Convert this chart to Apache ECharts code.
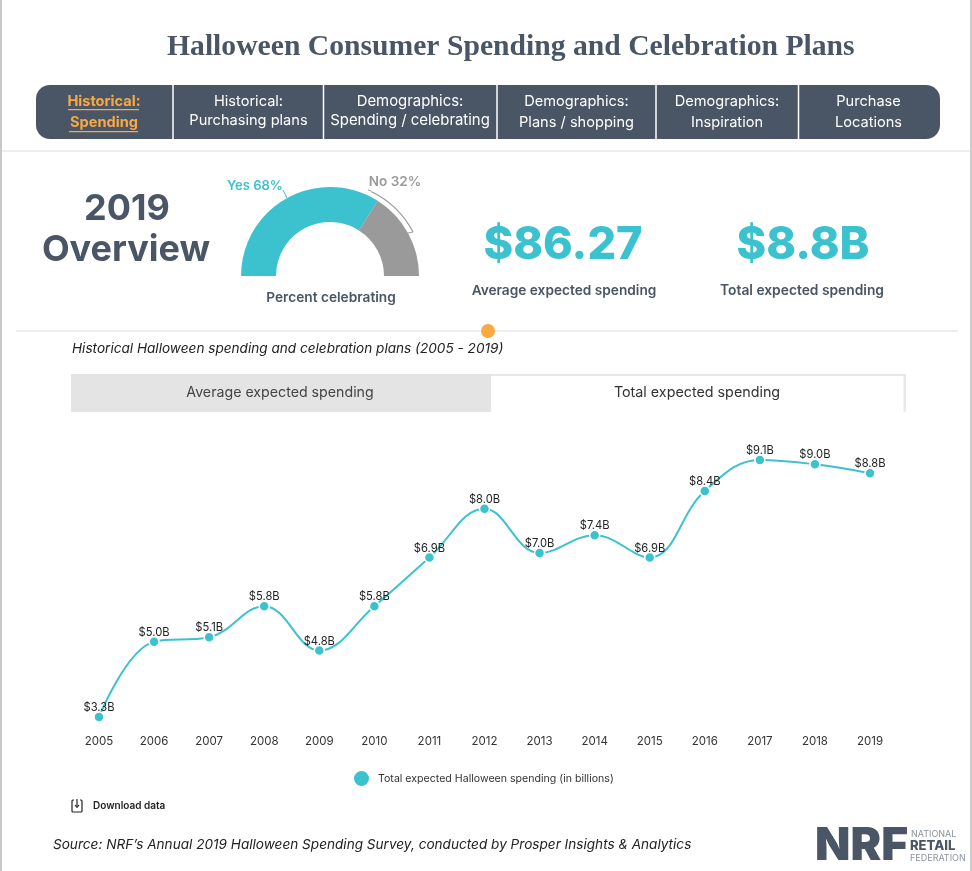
<!DOCTYPE html>
<html>
<head>
<meta charset="utf-8">
<title>Halloween Consumer Spending and Celebration Plans</title>
<script src="https://cdn.jsdelivr.net/npm/echarts@6/dist/echarts.min.js"></script>
<style>
html, body { margin: 0; padding: 0; background: #fff; }
#main { width: 972px; height: 871px; }
</style>
</head>
<body>
<div id="main"></div>
<script>
var years = ['2005', '2006', '2007', '2008', '2009', '2010', '2011', '2012', '2013', '2014', '2015', '2016', '2017', '2018', '2019'];
var totalSpending = [3.3, 5.0, 5.1, 5.8, 4.8, 5.8, 6.9, 8.0, 7.0, 7.4, 6.9, 8.4, 9.1, 9.0, 8.8];
var gaugeNames = ['Yes', 'No'];
var gaugeValues = [68, 32];

var TEAL = '#3cc1cf', SLATE = '#4a5565', ORANGE = '#f9a942', GREY = '#9a9a9a';
var SANS = 'Inter, "Open Sans", sans-serif';

var chart = echarts.init(document.getElementById('main'));

function txt(text, x, y, size, weight, fill, align, style) {
    return {
        type: 'text',
        style: {
            text: text, x: x, y: y, fill: fill,
            font: (style || 'normal') + ' ' + weight + ' ' + size + 'px ' + SANS,
            textAlign: align || 'center', textVerticalAlign: 'middle'
        }
    };
}
function box(x, y, w, h, fill, r) {
    return { type: 'rect', shape: { x: x, y: y, width: w, height: h, r: r || 0 }, style: { fill: fill } };
}
function seg(x1, y1, x2, y2, color, width) {
    return { type: 'line', shape: { x1: x1, y1: y1, x2: x2, y2: y2 }, style: { stroke: color, lineWidth: width || 1 } };
}

var shapes = [
    // page frame
    box(0, 0, 2, 871, '#c8c8c8'),
    box(970, 0, 2, 871, '#cccccc'),
    box(2, 150, 968, 2, '#eeeeee'),
    box(16, 330, 942, 2, '#eeeeee'),
    { type: 'circle', shape: { cx: 488, cy: 331, r: 7 }, style: { fill: ORANGE } },
    // nav bar
    box(36, 85, 904, 54, SLATE, 14)
];
[173, 323.5, 497, 656, 798.5].forEach(function (x) {
    shapes.push(box(x - 0.75, 85, 1.5, 54, '#ffffff'));
});
[
    [104, 'Historical:', 'Spending'],
    [248.5, 'Historical:', 'Purchasing plans'],
    [410, 'Demographics:', 'Spending / celebrating'],
    [576.5, 'Demographics:', 'Plans / shopping'],
    [727, 'Demographics:', 'Inspiration'],
    [868.5, 'Purchase', 'Locations']
].forEach(function (t, i) {
    var active = i === 0;
    var first = active ? 102 : 101.5;
    var size = i === 2 ? 14.9 : 14.6;
    shapes.push(txt(t[1], t[0], first, size, active ? 700 : 400, active ? ORANGE : '#ffffff'));
    shapes.push(txt(t[2], t[0], i === 1 || i === 2 ? 120.5 : 123, size, active ? 700 : 400, active ? ORANGE : '#ffffff'));
});
shapes.push(box(68, 109, 71, 1.3, ORANGE), box(69, 131, 69, 1.3, ORANGE));

shapes.push(
    // overview block
    txt('2019', 127, 209, 36, 700, SLATE),
    txt('Overview', 126, 250, 36, 700, SLATE),
    txt('Yes 68%', 255, 186, 13, 600, TEAL),
    txt('No 32%', 395, 182, 13.5, 600, GREY),
    seg(283, 190, 287, 198, TEAL, 1),
    {
        type: 'arc',
        shape: { cx: 330, cy: 276, r: 94, startAngle: -64 * Math.PI / 180, endAngle: -28 * Math.PI / 180 },
        style: { stroke: GREY, lineWidth: 1.2, fill: null }
    },
    seg(371, 191, 368, 190, GREY, 1),
    seg(413, 232, 408, 233, GREY, 1),
    txt('Percent celebrating', 331, 298, 13.7, 600, SLATE),
    txt('$86.27', 563, 245, 45, 800, TEAL),
    txt('Average expected spending', 564, 291, 13.7, 600, SLATE),
    txt('$8.8B', 803, 245, 45, 800, TEAL),
    txt('Total expected spending', 802, 291, 13.8, 600, SLATE),
    // chart heading and tabs
    txt('Historical Halloween spending and celebration plans (2005 - 2019)', 72, 349, 13.6, 400, '#222222', 'left', 'italic'),
    box(71, 374, 420, 38, '#e4e4e4'),
    box(491, 374, 415, 2, '#e8e8e8'),
    box(903.5, 374, 2.5, 38, '#e8e8e8'),
    txt('Average expected spending', 280, 393, 14.2, 400, '#444444'),
    txt('Total expected spending', 697, 393, 14.3, 400, '#333333'),
    // download link
    {
        type: 'rect',
        shape: { x: 72, y: 800, width: 10, height: 12, r: 1 },
        style: { fill: null, stroke: '#222222', lineWidth: 1.2 }
    },
    box(74, 798, 6, 4, '#ffffff'),
    seg(77, 799, 77, 807, '#222222', 1.2),
    seg(75, 805, 77, 807.5, '#222222', 1.2),
    seg(79, 805, 77, 807.5, '#222222', 1.2),
    txt('Download data', 93, 806, 10, 600, '#222222', 'left'),
    // source and logo
    txt('Source: NRF\u2019s Annual 2019 Halloween Spending Survey, conducted by Prosper Insights & Analytics', 53, 845, 13.6, 400, '#222222', 'left', 'italic'),
    {
        type: 'text',
        style: {
            text: 'NRF', x: 815, y: 846, fill: SLATE,
            font: '900 46px "Liberation Sans Narrow", Inter, sans-serif',
            textAlign: 'left', textVerticalAlign: 'middle'
        }
    },
    txt('NATIONAL', 911, 834, 9, 400, '#8a93a0', 'left'),
    txt('RETAIL', 910, 846, 13, 800, SLATE, 'left'),
    txt('FEDERATION', 910, 858, 9, 400, '#8a93a0', 'left')
);

var option = {
    animation: false,
    backgroundColor: '#ffffff',
    textStyle: { fontFamily: SANS },
    title: {
        text: 'Halloween Consumer Spending and Celebration Plans',
        left: 162, top: 27,
        textStyle: { color: SLATE, fontFamily: '"Liberation Serif", serif', fontWeight: 700, fontSize: 29.65 }
    },
    legend: {
        data: ['Total expected Halloween spending (in billions)'],
        left: 347, top: 764,
        icon: 'circle', itemWidth: 17, itemHeight: 17, itemGap: 8,
        textStyle: { color: '#333333', fontSize: 10.6, fontFamily: SANS, padding: [0, 0, 0, 3] }
    },
    grid: { left: 99, right: 102, top: 420, bottom: 140.7 },
    xAxis: {
        type: 'category',
        data: years,
        boundaryGap: false,
        axisLine: { show: false },
        axisTick: { show: false },
        axisLabel: { color: '#333333', fontSize: 11.5, margin: 5 }
    },
    yAxis: { type: 'value', min: 3, max: 10, show: false, splitLine: { show: false } },
    series: [{
        name: 'Total expected Halloween spending (in billions)',
        type: 'line',
        data: totalSpending,
        smooth: 0.4,
        symbol: 'circle',
        symbolSize: 10,
        itemStyle: { color: TEAL, borderColor: '#ffffff', borderWidth: 1.5 },
        lineStyle: { color: TEAL, width: 2 },
        label: {
            show: true, position: 'top', distance: 2, offset: [0, 4],
            color: '#222222', fontSize: 11.2,
            formatter: function (p) { return '$' + p.value.toFixed(1) + 'B'; }
        },
        z: 2
    }, {
        type: 'pie',
        center: [330, 276],
        radius: [54, 89],
        startAngle: 180,
        endAngle: 0,
        silent: true,
        label: { show: false },
        labelLine: { show: false },
        data: gaugeNames.map(function (n, i) {
            return { name: n, value: gaugeValues[i], itemStyle: { color: i === 0 ? TEAL : GREY } };
        })
    }],
    graphic: { elements: shapes }
};
chart.setOption(option);
</script>
</body>
</html>
